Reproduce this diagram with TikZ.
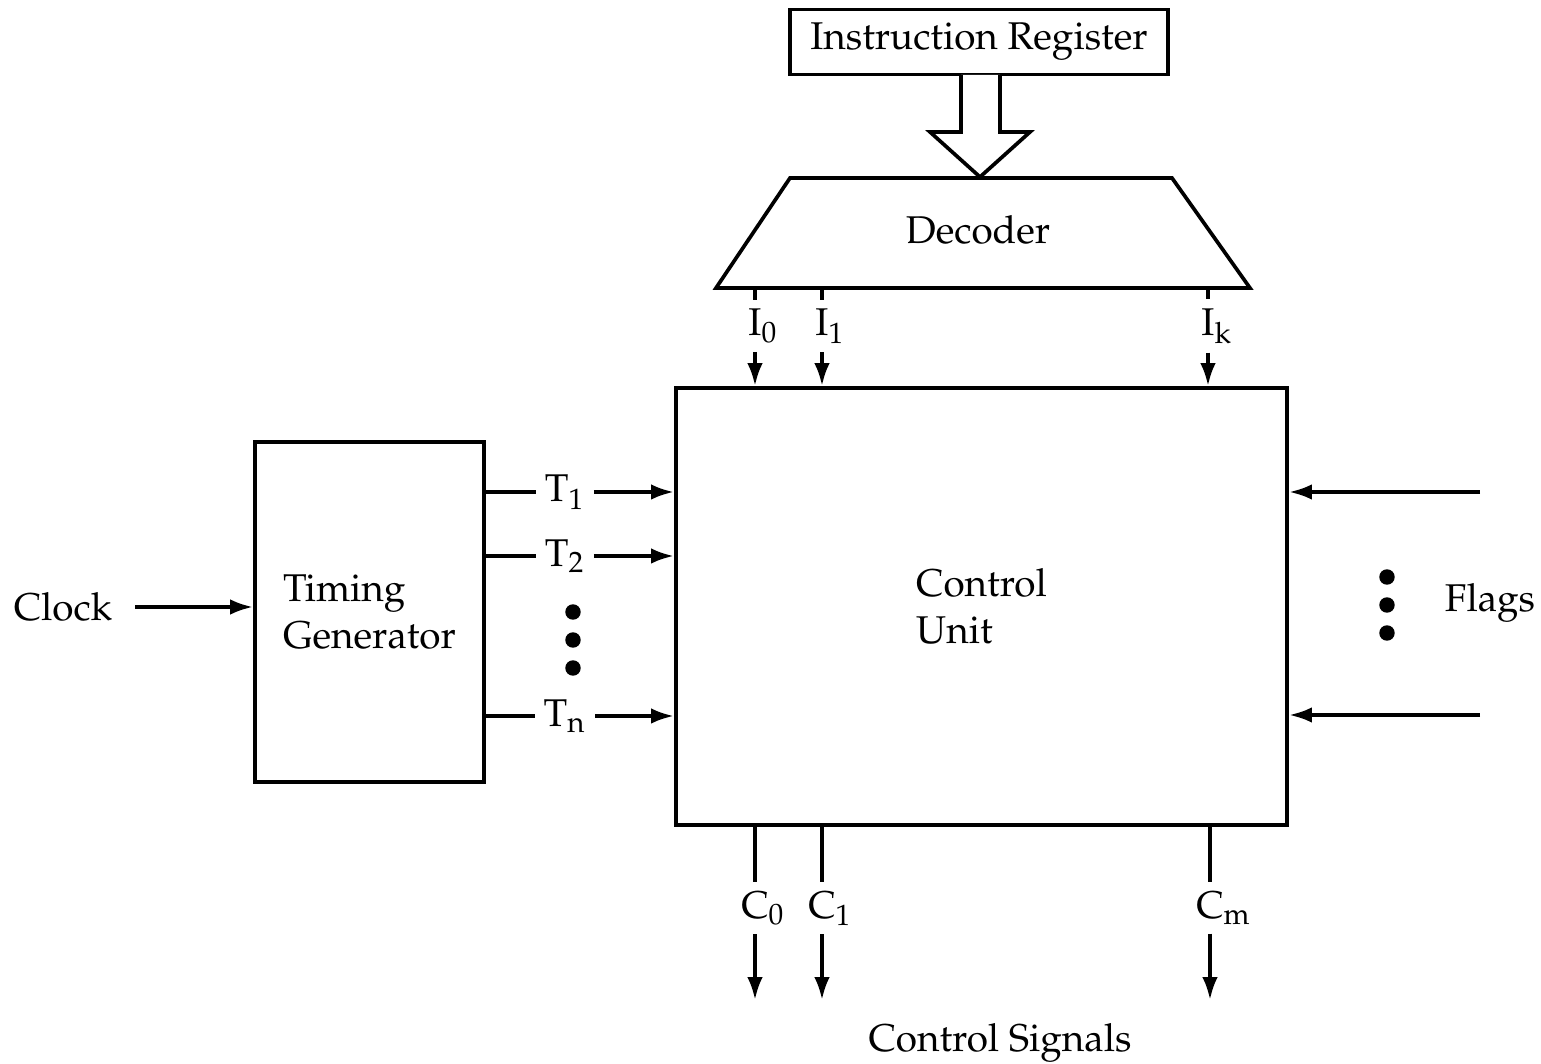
\documentclass[tikz,border=0pt]{standalone}
\usepackage[T1]{fontenc}
\usepackage{mathpazo}
\usetikzlibrary{arrows.meta}

% signal name with its index hanging to the right
\newcommand{\sig}[2]{$\mathrm{#1}\rlap{$_{\mathrm{#2}}$}$}

\begin{document}
\begin{tikzpicture}[x=0.01cm, y=-0.01cm, line width=1.05pt,
    font=\fontsize{11pt}{13.5pt}\selectfont,
    >={Latex[length=6.5pt,width=4.4pt]},
    blk/.style={draw, inner sep=0pt},
    lbl/.style={inner sep=2pt},
    dot/.style={circle, fill, inner sep=0pt, minimum size=4.4pt}]
    \useasboundingbox (0,0) rectangle (1541,1064);

    % Blocks
    \node[blk, minimum width=3.78cm, minimum height=0.65cm] (ir) at (979,42) {Instruction Register};
    \node[blk, minimum width=6.11cm, minimum height=4.37cm, align=left] (cu) at (981.5,606.5) {Control\\Unit};
    \node[blk, minimum width=2.29cm, minimum height=3.40cm, align=left] (tg) at (369.5,612) {Timing\\Generator};

    % Decoder
    \coordinate (decbl) at (716,288);
    \coordinate (decbr) at (1250,288);
    \draw (decbl) -- (790,178) -- (1172,178) -- (decbr) -- cycle;
    \node (dec) at (978,230) {Decoder};

    % Wide arrow into the decoder
    \draw[fill=white] (961,75) -- (961,132) -- (930,132) -- (980,177) -- (1030,132) -- (1000,132) -- (1000,75);

    % Decoder outputs
    \foreach \x/\sub [count=\i] in {755/0, 822/1, 1208/k} {
        \node[lbl] (i\i) at (\x,326) {\sig{I}{\sub}};
        \draw (i\i |- decbl) -- (i\i.north);
        \draw[->] (i\i.south) -- (i\i |- cu.north);
    }

    % Clock
    \node[inner xsep=6pt] (clk) at (63,607) {Clock};
    \draw[->] (clk.east) -- (tg.west |- clk.east);

    % Timing signals
    \foreach \y/\sub [count=\i] in {492/1, 556/2, 716/n} {
        \node[lbl] (t\i) at (565,\y) {$\mathrm{T}_{\mathrm{\sub}}$};
        \draw (tg.east |- 0,\y) -- (t\i.west |- 0,\y);
        \draw[->] (t\i.east |- 0,\y) -- (cu.west |- 0,\y);
    }
    \foreach \y [count=\i] in {612, 640, 668}
        \node[dot] (td\i) at (573,\y) {};

    % Flags
    \foreach \y [count=\i] in {492, 715} {
        \coordinate (f\i) at (1480,\y);
        \draw[->] (f\i) -- (cu.east |- f\i);
    }
    \foreach \y [count=\i] in {577, 605, 633}
        \node[dot] (fd\i) at (1387,\y) {};
    \node (flags) at (1490,603) {Flags};

    % Control signals
    \foreach \x/\sub [count=\i] in {755/0, 822/1, 1210/m} {
        \node[lbl] (c\i) at (\x,908) {\sig{C}{\sub}};
        \coordinate (co\i) at (\x,1000);
        \draw (c\i |- cu.south) -- (c\i.north);
        \draw[->] (c\i.south) -- (co\i);
    }
    \node (cs) at (1000,1043) {Control Signals};
\end{tikzpicture}
\end{document}
